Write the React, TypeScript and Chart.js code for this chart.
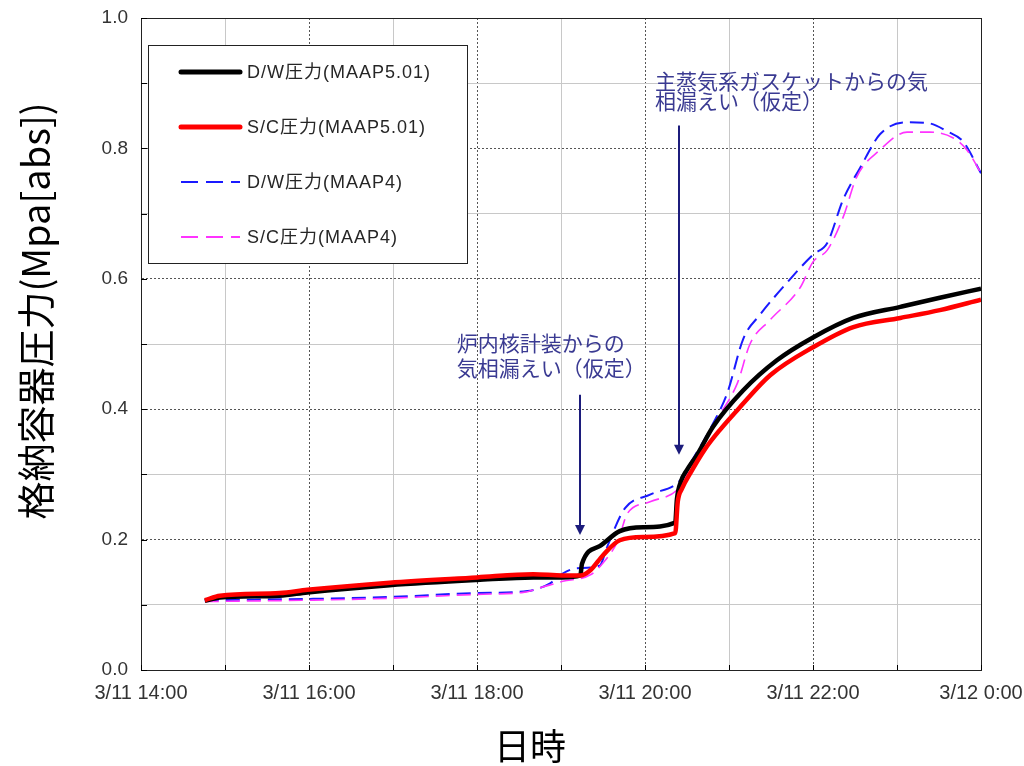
import React, { useEffect, useRef } from "react";
import { Chart, registerables } from "chart.js";
Chart.register(...registerables);

// time axis: hours from 3/11 0:00 (24 = 3/12 0:00)
const dwTime5 = [14.76, 14.94, 15.65, 15.98, 16.96, 18.0, 18.67, 19.02, 19.23, 19.25, 19.46, 19.7, 19.98, 20.36, 20.38, 20.43, 20.5, 20.62, 20.81, 21.17, 21.57, 22.0, 22.48, 23.04, 23.51, 24.0];
const dwPress5 = [0.106, 0.111, 0.114, 0.119, 0.130, 0.138, 0.142, 0.142, 0.145, 0.163, 0.190, 0.213, 0.219, 0.226, 0.262, 0.290, 0.307, 0.330, 0.373, 0.429, 0.475, 0.510, 0.540, 0.557, 0.571, 0.585];

const scTime5 = [14.76, 14.94, 15.65, 15.98, 16.96, 18.0, 18.67, 19.02, 19.23, 19.35, 19.5, 19.7, 19.98, 20.36, 20.39, 20.44, 20.54, 20.71, 20.89, 21.13, 21.49, 22.0, 22.48, 23.04, 23.51, 24.0];
const scPress5 = [0.107, 0.114, 0.118, 0.123, 0.134, 0.142, 0.147, 0.145, 0.145, 0.153, 0.176, 0.199, 0.204, 0.210, 0.258, 0.278, 0.302, 0.338, 0.368, 0.403, 0.452, 0.495, 0.526, 0.540, 0.552, 0.568];

const dwTime4 = [14.76, 15.98, 16.96, 18.0, 18.6, 18.87, 19.02, 19.19, 19.46, 19.55, 19.76, 20.06, 20.42, 20.54, 20.81, 20.98, 21.17, 21.37, 21.69, 22.0, 22.17, 22.36, 22.56, 22.8, 23.12, 23.36, 23.6, 23.79, 24.0];
const dwPress4 = [0.107, 0.109, 0.112, 0.118, 0.121, 0.133, 0.148, 0.156, 0.160, 0.189, 0.248, 0.269, 0.291, 0.317, 0.378, 0.425, 0.508, 0.545, 0.594, 0.637, 0.655, 0.722, 0.770, 0.822, 0.840, 0.839, 0.826, 0.810, 0.762];

const scTime4 = [14.76, 15.98, 16.96, 18.0, 18.55, 18.75, 19.02, 19.35, 19.5, 19.68, 19.79, 20.06, 20.42, 20.57, 20.86, 21.1, 21.25, 21.49, 21.85, 22.0, 22.17, 22.36, 22.52, 22.8, 23.12, 23.39, 23.67, 23.83, 24.0];
const scPress4 = [0.105, 0.107, 0.110, 0.116, 0.119, 0.126, 0.136, 0.146, 0.164, 0.199, 0.240, 0.258, 0.281, 0.317, 0.385, 0.440, 0.500, 0.537, 0.587, 0.626, 0.644, 0.695, 0.756, 0.798, 0.825, 0.825, 0.816, 0.798, 0.762];

const seriesLabels = ["D/W圧力(MAAP5.01)", "S/C圧力(MAAP5.01)", "D/W圧力(MAAP4)", "S/C圧力(MAAP4)"];
const xTickLabels: Record<number, string> = {
  14: "3/11 14:00",
  16: "3/11 16:00",
  18: "3/11 18:00",
  20: "3/11 20:00",
  22: "3/11 22:00",
  24: "3/12 0:00",
};
const yTitle = "格納容器圧力(Mpa[abs])";
const xTitle = "日時";

// annotation arrows: time, start pressure, end pressure
const arrowTimes = [19.23, 20.4];
const arrowFrom = [0.422, 0.835];
const arrowTo = [0.207, 0.33];
const note1 = ["炉内核計装からの", "気相漏えい（仮定）"];
const note2 = ["主蒸気系ガスケットからの気", "相漏えい（仮定）"];

const FONT = "'Liberation Sans', 'Noto Sans CJK JP', sans-serif";
const CJK = "'Noto Sans CJK JP', sans-serif";

const colors = ["#000000", "#ff0000", "#1a1aff", "#ff33ff"];
const widths = [4.5, 4.5, 2, 1.6];
const dashes: number[][] = [[], [], [14, 7], [14, 7]];

const pts = (t: number[], v: number[]) => t.map((x, i) => ({ x, y: v[i] }));

const overlayPlugin = {
  id: "overlay",
  afterDatasetsDraw(chart: any) {
    const { ctx, chartArea: a, scales } = chart;
    const x = scales.x;
    const y = scales.y;
    ctx.save();
    // frame
    ctx.setLineDash([]);
    ctx.strokeStyle = "#222";
    ctx.lineWidth = 1;
    ctx.strokeRect(Math.round(a.left) + 0.5, Math.round(a.top) + 0.5, Math.round(a.right - a.left), Math.round(a.bottom - a.top));
    // inner tick marks
    ctx.strokeStyle = "#000";
    for (let v = 14; v <= 24; v++) {
      const px = Math.round(x.getPixelForValue(v)) + 0.5;
      ctx.beginPath();
      ctx.moveTo(px, a.bottom);
      ctx.lineTo(px, a.bottom - 5);
      ctx.stroke();
    }
    for (let i = 0; i <= 10; i++) {
      const py = Math.round(y.getPixelForValue(i / 10)) + 0.5;
      ctx.beginPath();
      ctx.moveTo(a.left, py);
      ctx.lineTo(a.left + 6, py);
      ctx.stroke();
    }

    // legend box
    const lx = Math.round(a.left) + 7;
    const ly = Math.round(a.top) + 27;
    ctx.fillStyle = "#fff";
    ctx.fillRect(lx, ly, 319, 218);
    ctx.strokeStyle = "#222";
    ctx.lineWidth = 1;
    ctx.strokeRect(lx + 0.5, ly + 0.5, 319, 218);
    const rows = [27, 82, 137, 192];
    ctx.font = `18px ${FONT}`;
    (ctx as any).letterSpacing = "1px";
    ctx.textBaseline = "middle";
    ctx.textAlign = "left";
    seriesLabels.forEach((lab, i) => {
      const ry = ly + rows[i];
      ctx.beginPath();
      ctx.strokeStyle = colors[i];
      ctx.lineWidth = i < 2 ? 5 : 2.2;
      ctx.setLineDash(i < 2 ? [] : [17, 8]);
      ctx.lineCap = i < 2 ? "round" : "butt";
      ctx.moveTo(lx + 33, ry);
      ctx.lineTo(lx + 92, ry);
      ctx.stroke();
      ctx.setLineDash([]);
      ctx.fillStyle = "#262626";
      ctx.fillText(lab, lx + 99, ry + 1);
    });
    (ctx as any).letterSpacing = "0px";

    // arrows
    ctx.strokeStyle = "#1c1c7c";
    ctx.fillStyle = "#1c1c7c";
    ctx.lineWidth = 2;
    ctx.lineCap = "butt";
    arrowTimes.forEach((t, i) => {
      const px = Math.round(x.getPixelForValue(t));
      const p0 = y.getPixelForValue(arrowFrom[i]);
      const p1 = y.getPixelForValue(arrowTo[i]);
      ctx.beginPath();
      ctx.moveTo(px, p0);
      ctx.lineTo(px, p1 - 8);
      ctx.stroke();
      ctx.beginPath();
      ctx.moveTo(px - 5, p1 - 10);
      ctx.lineTo(px + 5, p1 - 10);
      ctx.lineTo(px, p1);
      ctx.closePath();
      ctx.fill();
    });

    // notes
    ctx.fillStyle = "#3a3a92";
    ctx.font = `21px ${CJK}`;
    ctx.textBaseline = "top";
    ctx.textAlign = "left";
    const n1x = x.getPixelForValue(17.76);
    const n1y = y.getPixelForValue(0.518);
    note1.forEach((s, i) => ctx.fillText(s, n1x, n1y + i * 25));
    const n2x = x.getPixelForValue(20.12);
    const n2y = y.getPixelForValue(0.92);
    note2.forEach((s, i) => ctx.fillText(s, n2x, n2y + i * 20));
    ctx.restore();
  },
  afterDraw(chart: any) {
    const { ctx } = chart;
    ctx.save();
    ctx.fillStyle = "#000";
    ctx.font = `38px ${CJK}`;
    ctx.textAlign = "center";
    ctx.textBaseline = "middle";
    ctx.translate(36, 311);
    ctx.rotate(-Math.PI / 2);
    ctx.fillText(yTitle, 0, 0);
    ctx.restore();
    ctx.save();
    ctx.fillStyle = "#000";
    ctx.font = `36px ${CJK}`;
    ctx.textAlign = "center";
    ctx.textBaseline = "middle";
    ctx.fillText(xTitle, 530, 746);
    ctx.restore();
  },
};

export default function App() {
  const ref = useRef<HTMLCanvasElement>(null);
  useEffect(() => {
    if (!ref.current) return;
    const even = (v: number) => Math.round(v) % 2 === 0;
    const chart = new Chart(ref.current, {
      type: "line",
      data: {
        datasets: [
          { label: seriesLabels[0], data: pts(dwTime5, dwPress5), order: 1 },
          { label: seriesLabels[1], data: pts(scTime5, scPress5), order: 0 },
          { label: seriesLabels[2], data: pts(dwTime4, dwPress4), order: 3 },
          { label: seriesLabels[3], data: pts(scTime4, scPress4), order: 2 },
        ].map((d, i) => ({
          ...d,
          borderColor: colors[i],
          backgroundColor: colors[i],
          borderWidth: widths[i],
          borderDash: dashes[i],
          pointRadius: 0,
          fill: false,
          cubicInterpolationMode: "monotone" as const,
        })),
      },
      options: {
        responsive: false,
        animation: false,
        events: [],
        layout: { padding: { left: 0, top: 18, right: 43, bottom: 0 } },
        plugins: { legend: { display: false }, tooltip: { enabled: false }, title: { display: false } },
        scales: {
          x: {
            type: "linear",
            min: 14,
            max: 24,
            afterFit: (s: any) => {
              s.height = 96;
              s.paddingLeft = 0;
              s.paddingRight = 0;
            },
            ticks: {
              stepSize: 1,
              autoSkip: false,
              maxRotation: 0,
              padding: 11,
              color: "#333",
              font: { family: "'Liberation Sans Narrow', 'Liberation Sans', sans-serif", size: 20 },
              callback: (v: any) => xTickLabels[Math.round(Number(v))] ?? "",
            },
            grid: {
              drawTicks: false,
              color: (c: any) => (c.tick && even(c.tick.value) ? "#555" : "#c8c8c8"),
              lineWidth: 1,
            },
            border: {
              color: "#000",
              width: 1,
              dash: (c: any) => (c.tick && even(c.tick.value) ? [2, 2] : []),
            },
          },
          y: {
            type: "linear",
            min: 0,
            max: 1,
            afterFit: (s: any) => {
              s.width = 141;
              s.paddingTop = 0;
              s.paddingBottom = 0;
            },
            ticks: {
              stepSize: 0.1,
              autoSkip: false,
              padding: 13,
              color: "#333",
              font: { family: "'Liberation Sans', sans-serif", size: 19 },
              callback: (v: any) => {
                const k = Math.round(Number(v) * 10);
                return k % 2 === 0 ? (k / 10).toFixed(1) : "";
              },
            },
            grid: {
              drawTicks: false,
              color: (c: any) => (c.tick && Math.round(c.tick.value * 10) % 2 === 0 ? "#555" : "#c8c8c8"),
              lineWidth: 1,
            },
            border: {
              color: "#000",
              width: 1,
              dash: (c: any) => (c.tick && Math.round(c.tick.value * 10) % 2 === 0 ? [2, 2] : []),
            },
          },
        },
      },
      plugins: [overlayPlugin],
    });
    return () => chart.destroy();
  }, []);
  return (
    <div style={{ position: "absolute", left: 0, top: 0, width: 1024, height: 766, background: "#fff" }}>
      <canvas ref={ref} width={1024} height={766} style={{ display: "block" }} />
    </div>
  );
}
